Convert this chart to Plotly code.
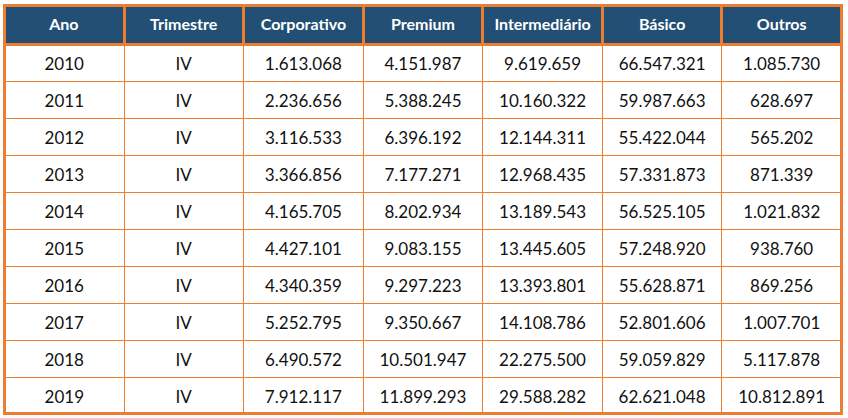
import plotly.graph_objects as go

ORANGE = "#ED7D31"
NAVY = "#234F74"

anos = [2010, 2011, 2012, 2013, 2014, 2015, 2016, 2017, 2018, 2019]
trimestre = ["IV"] * 10
corporativo = ["1.613.068", "2.236.656", "3.116.533", "3.366.856", "4.165.705",
               "4.427.101", "4.340.359", "5.252.795", "6.490.572", "7.912.117"]
premium = ["4.151.987", "5.388.245", "6.396.192", "7.177.271", "8.202.934",
           "9.083.155", "9.297.223", "9.350.667", "10.501.947", "11.899.293"]
intermediario = ["9.619.659", "10.160.322", "12.144.311", "12.968.435", "13.189.543",
                 "13.445.605", "13.393.801", "14.108.786", "22.275.500", "29.588.282"]
basico = ["66.547.321", "59.987.663", "55.422.044", "57.331.873", "56.525.105",
          "57.248.920", "55.628.871", "52.801.606", "59.059.829", "62.621.048"]
outros = ["1.085.730", "628.697", "565.202", "871.339", "1.021.832",
          "938.760", "869.256", "1.007.701", "5.117.878", "10.812.891"]

headers = ["Ano", "Trimestre", "Corporativo", "Premium", "Intermediário", "Básico", "Outros"]


def sized(vals, px, bold=False):
    # plotly tables top-align text; a bigger base font pushes the baseline down,
    # the span keeps the visible size. the trailing <br> stops the table from
    # word-wrapping on the space inside the tag
    out = []
    for v in vals:
        t = f"<b>{v}</b>" if bold else str(v)
        out.append(f'<span style="font-size:{px}px">{t}</span><br>')
    return out


columns = [anos, trimestre, corporativo, premium, intermediario, basico, outros]

fig = go.Figure(go.Table(
    domain=dict(x=[4.5 / 848, 841.5 / 848], y=[0, 1 - 5.5 / 418]),
    columnwidth=[1] * 7,
    header=dict(
        values=sized(headers, 16, bold=True),
        fill_color=NAVY,
        line=dict(color=ORANGE, width=3),
        align="center",
        height=39,
        font=dict(family="Lato", size=25, color="white"),
    ),
    cells=dict(
        values=[sized(col, 17) for col in columns],
        fill_color="white",
        line=dict(color=ORANGE, width=1),
        align="center",
        height=36.7,
        font=dict(family="Lato", size=23, color="#111111"),
    ),
))

# thick outer frame
fig.add_shape(type="rect", xref="paper", yref="paper",
              x0=4.5 / 848, x1=841.5 / 848, y0=1 - 413.5 / 418, y1=1 - 5.5 / 418,
              line=dict(color=ORANGE, width=3))

fig.update_layout(
    width=848, height=418,
    margin=dict(l=0, r=0, t=0, b=0),
    paper_bgcolor="white",
)

# page has a default 8px body margin, drop it
fig.write_html("out.html", config={"displayModeBar": False},
               post_script="document.body.style.margin='0';")
